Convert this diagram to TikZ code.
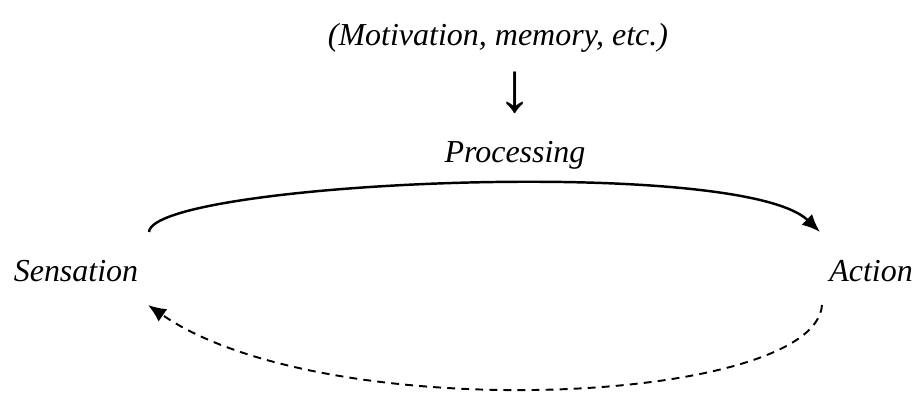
\documentclass[tikz,border=0pt]{standalone}
\usepackage{fontspec}
\setmainfont{Liberation Serif}
\usetikzlibrary{positioning,arrows.meta}

\tikzset{
  stage/.style={font=\fontsize{18.2}{22}\selectfont\itshape},
  loopline/.style={line width=1.4pt,-{Latex[length=3.6mm,width=3mm]}},
  feedback/.style={loopline,line width=1.1pt,dash pattern=on 4.5pt off 3.5pt},
}

\begin{document}
\begin{tikzpicture}
  \useasboundingbox (0,0) rectangle (18.38,-7.86);
  \node[stage] (Sensation) at (1.52,-5.43) {Sensation};
  \node[stage, on grid, right=15.9cm of Sensation] (Action) {Action};
  \node[stage, on grid, above right=2.33cm and 8.78cm of Sensation] (Processing) {Processing};
  \node[on grid, above=1.24cm of Processing, font=\fontsize{40}{40}\selectfont] (Down) {↓};
  \node[stage, on grid, above left=2.35cm and 0.34cm of Processing] (Context) {(Motivation, memory, etc.)};

  \coordinate[on grid, above right=0.79cm and 1.46cm of Sensation] (SensOut);
  \coordinate[on grid, below right=0.67cm and 1.44cm of Sensation] (SensIn);
  \coordinate[on grid, above left=0.79cm and 1.02cm of Action] (ActIn);
  \coordinate[on grid, below left=0.67cm and 0.98cm of Action] (ActOut);

  \draw[loopline] (SensOut) .. controls +(0.07,1.0) and +(-1.6,1.54) .. (ActIn);
  \draw[feedback] (ActOut) .. controls +(-0.14,-2.0) and +(3.54,-2.45) .. (SensIn);
\end{tikzpicture}
\end{document}
